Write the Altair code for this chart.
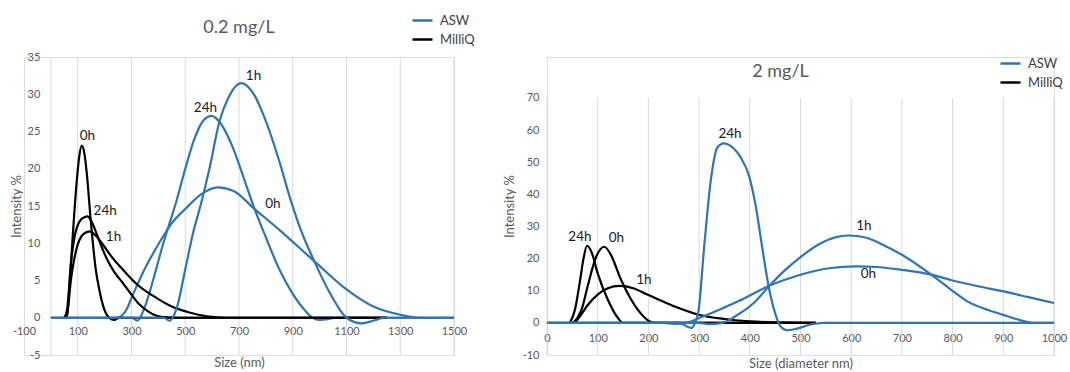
import altair as alt
import pandas as pd

FONT = "Lato"
BLUE = "#2E75B6"
BLACK = "#000000"
TXT = "#595959"
GRID = "#D9D9D9"

# ---------------- Panel A : 0.2 mg/L ----------------
A_MQ_0h_x = [50, 60, 68, 80, 95, 105, 115, 125, 133, 149, 167, 180, 199, 217, 236, 255, 1250]
A_MQ_0h_y = [0, 0.3, 3.4, 10.2, 17.8, 21.5, 23.1, 22.0, 19.6, 12.8, 6.5, 3.8, 1.1, 0, -0.3, 0, 0]
A_MQ_24h_x = [50, 60, 75, 90, 110, 125, 136, 150, 170, 190, 210, 235, 267, 300, 329, 360, 391, 430, 480, 1250]
A_MQ_24h_y = [0, 1.0, 7.5, 11.2, 13.1, 13.5, 13.6, 13.0, 11.3, 9.4, 7.8, 6.2, 4.7, 3.1, 1.8, 0.9, 0.3, 0.05, 0, 0]
A_MQ_1h_x = [50, 60, 75, 95, 120, 145, 170, 200, 230, 267, 320, 391, 450, 515, 580, 652, 1250]
A_MQ_1h_y = [0, 0.5, 5.2, 9.2, 11.2, 11.6, 10.9, 9.5, 8.0, 6.5, 4.5, 2.7, 1.5, 0.7, 0.2, 0, 0]
A_ASW_0h_x = [0, 240, 255, 280, 304, 350, 404, 450, 500, 560, 621, 680, 758, 850, 980, 1100, 1200, 1300, 1373, 1500]
A_ASW_0h_y = [0, 0, 0.1, 1.0, 3.0, 6.6, 10.1, 12.7, 14.6, 16.6, 17.5, 17.0, 14.6, 11.8, 7.6, 3.8, 1.5, 0.4, 0, 0]
A_ASW_24h_x = [0, 300, 322, 350, 380, 416, 440, 466, 500, 534, 570, 599, 627, 683, 720, 758, 800, 850, 900, 950, 974, 1000, 1030, 1060, 1500]
A_ASW_24h_y = [0, 0, -0.4, 1.5, 5.0, 9.7, 12.5, 15.5, 20.0, 24.0, 26.6, 27.1, 26.3, 22.3, 18.5, 14.6, 10.8, 6.5, 3.2, 0.8, 0, -0.3, -0.2, 0, 0]
A_ASW_1h_x = [0, 420, 441, 470, 500, 530, 560, 590, 627, 660, 708, 750, 801, 850, 888, 930, 980, 1040, 1100, 1155, 1200, 1240, 1500]
A_ASW_1h_y = [0, 0, -0.4, 1.5, 6.5, 11.5, 15.5, 20.0, 26.3, 29.5, 31.5, 30.3, 26.3, 21.0, 16.3, 11.8, 7.6, 3.2, 0, -0.75, -0.4, 0, 0]

A_LAB_TEXT = ["0h", "24h", "1h", "1h", "24h", "0h"]
A_LAB_X = [136, 202, 233, 754, 575, 826]
A_LAB_Y = [24.4, 14.3, 10.8, 32.5, 28.2, 15.3]

A_GRID = [0, 100, 300, 500, 700, 900, 1100, 1300, 1500]
A_XTICKS = [-100, 100, 300, 500, 700, 900, 1100, 1300, 1500]
A_YTICKS = [-5, 0, 5, 10, 15, 20, 25, 30, 35]

# ---------------- Panel B : 2 mg/L ----------------
B_MQ_24h_x = [45, 55, 65, 72, 79, 88, 100, 120, 140, 150, 530]
B_MQ_24h_y = [0, 4, 13, 20, 24, 22, 15.4, 7.2, 1.5, 0, 0]
B_MQ_0h_x = [50, 60, 70, 80, 97, 113, 125, 146, 165, 179, 199, 212, 530]
B_MQ_0h_y = [0, 1.5, 5, 11.3, 20.6, 23.7, 21.5, 13.4, 7.5, 4.1, 0.8, 0, 0]
B_MQ_1h_x = [55, 65, 80, 100, 120, 143, 170, 198, 250, 297, 350, 400, 450, 510, 530]
B_MQ_1h_y = [0, 2.0, 5.5, 8.8, 10.8, 11.5, 10.8, 8.8, 5.2, 2.6, 1.2, 0.5, 0.15, 0, 0]
B_ASW_24h_x = [0, 260, 284, 298, 310, 323, 336, 349, 362, 382, 398, 411, 424, 437, 450, 460, 474, 493, 520, 545, 1000]
B_ASW_24h_y = [0, 0, -1.6, 3.0, 23.7, 44.3, 54.6, 55.9, 55.1, 51.5, 46.0, 37.0, 24.0, 11.5, 3.0, -1.0, -2.3, -1.8, -0.5, 0, 0]
B_ASW_0h_x = [0, 230, 250, 275, 300, 350, 377, 439, 500, 556, 610, 650, 700, 758, 800, 850, 900, 950, 1000]
B_ASW_0h_y = [0, 0, -0.3, 0, 1.5, 4.8, 6.7, 11.6, 15.0, 17.0, 17.6, 17.4, 16.5, 15.0, 13.2, 11.4, 9.8, 8.0, 6.2]
B_ASW_1h_x = [0, 300, 320, 345, 377, 410, 439, 470, 500, 540, 570, 594, 630, 660, 700, 758, 797, 829, 870, 900, 930, 960, 1000]
B_ASW_1h_y = [0, 0, -0.4, 0, 2.6, 6.5, 11.6, 16.5, 20.5, 24.8, 26.7, 27.2, 26.5, 24.5, 21.2, 15.0, 10.3, 6.7, 4.0, 2.5, 1.0, 0, 0]

B_LAB_TEXT = ["24h", "1h", "0h", "24h", "0h", "1h"]
B_LAB_X = [361, 625, 634, 65, 137, 191]
B_LAB_Y = [58.8, 30.2, 15.1, 26.7, 26.4, 13.2]

B_GRID = [0, 100, 200, 300, 400, 500, 600, 700, 800, 900, 1000]
B_XTICKS = [0, 100, 200, 300, 400, 500, 600, 700, 800, 900, 1000]
B_YTICKS = [-10, 0, 10, 20, 30, 40, 50, 60, 70]


def build(rows):
    frames = []
    for medium, time, xs, ys, z in rows:
        frames.append(pd.DataFrame({"x": xs, "y": ys, "medium": medium, "time": time,
                                    "series": medium + " " + time, "z": z}))
    return pd.concat(frames, ignore_index=True)


A_df = build([
    ("ASW", "0h", A_ASW_0h_x, A_ASW_0h_y, 0),
    ("ASW", "24h", A_ASW_24h_x, A_ASW_24h_y, 0),
    ("MilliQ", "0h", A_MQ_0h_x, A_MQ_0h_y, 1),
    ("MilliQ", "24h", A_MQ_24h_x, A_MQ_24h_y, 1),
    ("MilliQ", "1h", A_MQ_1h_x, A_MQ_1h_y, 1),
    ("ASW", "1h", A_ASW_1h_x, A_ASW_1h_y, 2),
])
B_df = build([
    ("MilliQ", "24h", B_MQ_24h_x, B_MQ_24h_y, 0),
    ("MilliQ", "0h", B_MQ_0h_x, B_MQ_0h_y, 0),
    ("MilliQ", "1h", B_MQ_1h_x, B_MQ_1h_y, 0),
    ("ASW", "0h", B_ASW_0h_x, B_ASW_0h_y, 1),
    ("ASW", "1h", B_ASW_1h_x, B_ASW_1h_y, 1),
    ("ASW", "24h", B_ASW_24h_x, B_ASW_24h_y, 1),
])
A_lab = pd.DataFrame({"x": A_LAB_X, "y": A_LAB_Y, "t": A_LAB_TEXT})
B_lab = pd.DataFrame({"x": B_LAB_X, "y": B_LAB_Y, "t": B_LAB_TEXT})

PLAIN = "'' + datum.value"


def panel(df, lab, grid_vals, xdom, ydom, ytop_data, xvals, yvals, w, h,
          xoff, xlabpad, xtitle, xtitlepad, yoff, ylabpad, ytitlepad,
          title, tdx, toff, lx, ly, rowpad, nz):
    xs = alt.Scale(domain=xdom, nice=False, zero=False)
    ys = alt.Scale(domain=ydom, nice=False, zero=False)
    xaxis = alt.Axis(
        values=xvals, offset=xoff, domain=False, ticks=False, grid=False,
        labelPadding=xlabpad, labelFont=FONT, labelFontSize=11, labelColor=TXT,
        labelFlush=False, labelOverlap=False, labelExpr=PLAIN,
        title=xtitle, titleFont=FONT, titleFontSize=13, titleFontWeight="normal",
        titleColor=TXT, titlePadding=xtitlepad)
    yaxis = alt.Axis(
        values=yvals, offset=yoff, domain=False, ticks=False, grid=False,
        labelPadding=ylabpad, labelFont=FONT, labelFontSize=11, labelColor=TXT,
        labelFlush=False, labelOverlap=False, labelExpr=PLAIN,
        title="Intensity %", titleFont=FONT, titleFontSize=13, titleFontWeight="normal",
        titleColor=TXT, titlePadding=ytitlepad)
    X = alt.X("x:Q", scale=xs, axis=xaxis)
    Y = alt.Y("y:Q", scale=ys, axis=yaxis)
    color = alt.Color("medium:N",
                      scale=alt.Scale(domain=["ASW", "MilliQ"], range=[BLUE, BLACK]),
                      legend=alt.Legend(title=None, orient="none", legendX=lx, legendY=ly,
                                        symbolType="stroke", symbolStrokeWidth=2.5,
                                        symbolSize=400, labelFont=FONT, labelFontSize=13,
                                        labelColor="#404040", rowPadding=rowpad,
                                        labelOffset=6, padding=0, direction="vertical"))
    grid = alt.Chart(pd.DataFrame({"x": grid_vals})).mark_rule(
        color=GRID, strokeWidth=1).encode(
        x=X,
        y=alt.YDatum(ydom[0], scale=ys, axis=yaxis, title="Intensity %"),
        y2=alt.Y2Datum(ytop_data))
    lines = []
    for k in range(nz):
        lines.append(alt.Chart(df).transform_filter(alt.datum.z == k).mark_line(
            strokeWidth=2.2, interpolate="monotone").encode(
            x=X, y=Y, color=color, detail="series:N"))
    text = alt.Chart(lab).mark_text(font=FONT, fontSize=13.5, color="#1a1a1a").encode(
        x=X, y=Y, text="t:N")
    return alt.layer(grid, *lines, text).properties(
        width=w, height=h,
        title=alt.TitleParams(title, font=FONT, fontSize=18, fontWeight="normal",
                              color=TXT, anchor="middle", offset=toff, dx=tdx))


H = 298
left = panel(A_df, A_lab, A_GRID, [-100, 1500], [-5, 35], 35, A_XTICKS, A_YTICKS,
             430, H, xoff=-37.25, xlabpad=8, xtitle="Size (nm)", xtitlepad=20,
             yoff=-26.875, ylabpad=11, ytitlepad=4,
             title="0.2 mg/L", tdx=0, toff=-28, lx=387, ly=-48, rowpad=0, nz=3)
right = panel(B_df, B_lab, B_GRID, [0, 1000], [-10, 82.76], 70, B_XTICKS, B_YTICKS,
              507, H, xoff=-32.1, xlabpad=10, xtitle="Size (diameter nm)", xtitlepad=14,
              yoff=0, ylabpad=8, ytitlepad=6,
              title="2 mg/L", tdx=-20, toff=-29, lx=452, ly=-5, rowpad=-2, nz=2)

chart = alt.hconcat(left, right, spacing=93, bounds="flush").resolve_scale(
    color="independent").resolve_legend(color="independent").properties(
    padding={"left": 9, "top": 8, "right": 0, "bottom": 0}
).configure_view(stroke=None).configure(font=FONT, background="white")

chart.save("out.html", embed_options={"renderer": "svg", "actions": False})
